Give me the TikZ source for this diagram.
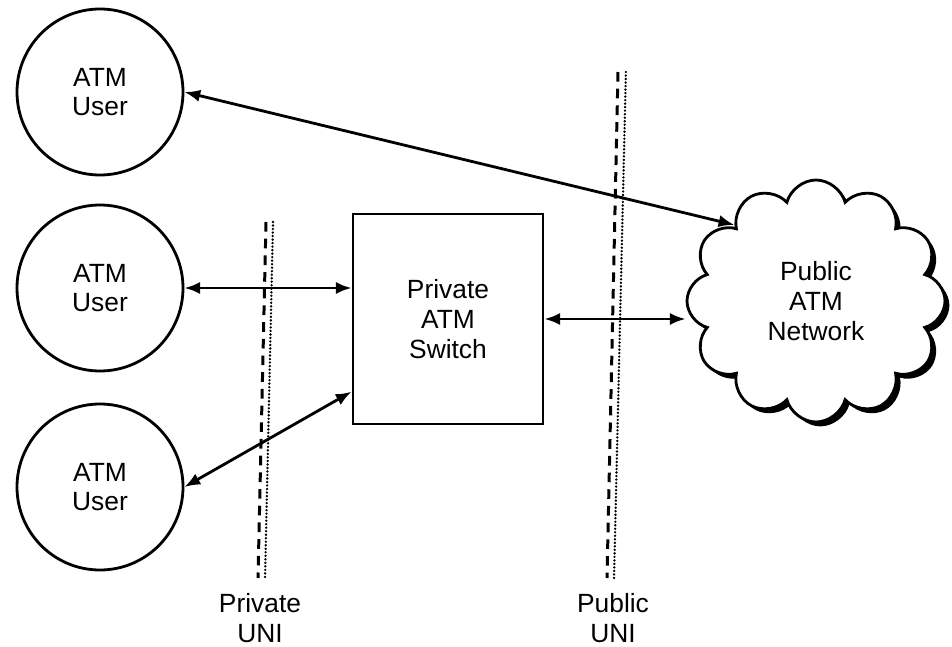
\documentclass[tikz,border=0pt]{standalone}
\usepackage{fontspec}
\setmainfont{Liberation Sans}
\usetikzlibrary{shapes.symbols,shadows,arrows.meta}

\begin{document}
\begin{tikzpicture}[font=\fontsize{15}{17}\selectfont,line width=1.6pt,
user/.style={draw,circle,minimum size=3.32cm,align=center},
link/.style={{Latex[length=9pt,width=7pt]}-{Latex[length=9pt,width=7pt]}},
unidash/.style={line width=1.7pt,dash pattern=on 5.5pt off 4pt},
unidot/.style={line width=1.5pt,line cap=round,dash pattern=on 0pt off 2pt}]
\useasboundingbox(0,0)rectangle(19.04,12.92);
% users
\node[user](u1)at(2,11.08){ATM\\User};
\node[user](u2)at(2,7.16){ATM\\User};
\node[user](u3)at(2,3.18){ATM\\User};
% switch and network
\node[draw,minimum width=3.8cm,minimum height=4.2cm,align=center](sw)at(8.96,6.54){Private\\ATM\\Switch};
\node[cloud,cloud puffs=12,cloud ignores aspect,draw,fill=white,minimum width=5.16cm,minimum height=4.84cm,align=center,
  drop shadow={shadow xshift=2.5pt,shadow yshift=-2.5pt,fill=black,opacity=1}](net)at(16.32,6.9){Public\\ATM\\Network};
% interfaces
\coordinate(privtop)at(5.32,8.48);
\coordinate(privbot)at(5.16,1.36);
\coordinate(pubtop)at(12.36,11.48);
\coordinate(pubbot)at(12.14,1.36);
\draw[unidash](privtop)--(privbot);
\draw[unidot]([xshift=4pt]privtop)--([xshift=4pt]privbot);
\draw[unidash](pubtop)--(pubbot);
\draw[unidot]([xshift=4.5pt]pubtop)--([xshift=4pt]pubbot);
\node[align=center](privlbl)at(5.2,0.56){Private\\UNI};
\node[align=center](publbl)at(12.26,0.56){Public\\UNI};
% links
\draw[link](u1.east)--(net.137);
\draw[link](u2.east)--(u2.east-|sw.west);
\draw[link](u3.east)--(sw.217);
\draw[link](sw.east)--(sw.east-|net.west);
\end{tikzpicture}
\end{document}
